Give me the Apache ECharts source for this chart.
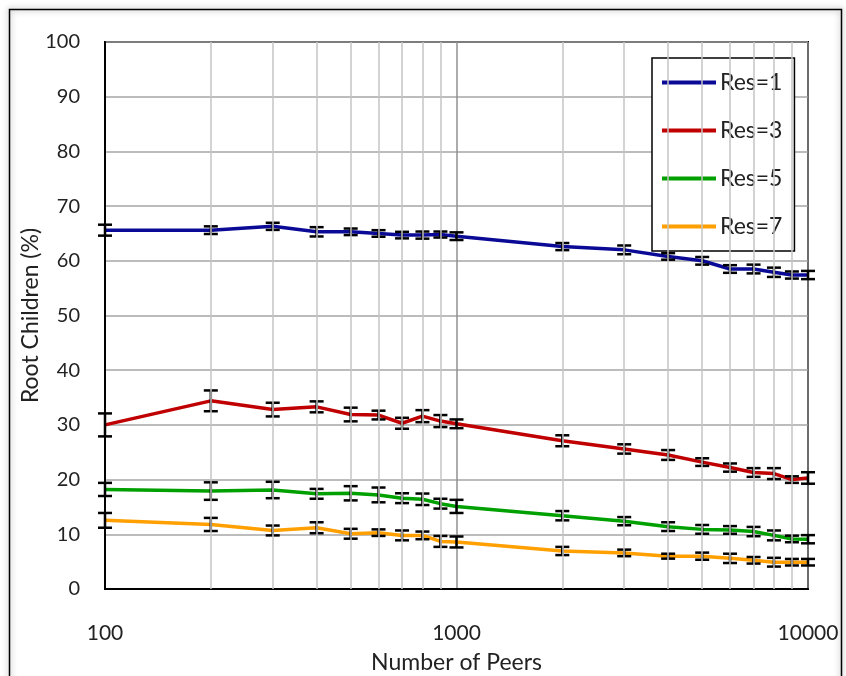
<!DOCTYPE html>
<html>
<head>
<meta charset="utf-8">
<script src="https://cdn.jsdelivr.net/npm/echarts@6/dist/echarts.min.js"></script>
<style>
  html, body { margin: 0; padding: 0; background: #fff; }
  #chart { width: 846px; height: 676px; }
</style>
</head>
<body>
<div id="chart"></div>
<script>
// Number of peers (log x axis)
const peers = [100, 200, 300, 400, 500, 600, 700, 800, 900, 1000, 2000, 3000, 4000, 5000, 6000, 7000, 8000, 9000, 10000];
// minor vertical gridlines of the log axis
const minorPeers = [200, 300, 400, 500, 600, 700, 800, 900, 2000, 3000, 4000, 5000, 6000, 7000, 8000, 9000];

const seriesNames = ["Res=1", "Res=3", "Res=5", "Res=7"];
const seriesColors = ["#0a0a96", "#c00000", "#00a000", "#ffa000"];

// Root children (%) means
const res1 = [65.6, 65.6, 66.3, 65.3, 65.3, 65.0, 64.7, 64.7, 64.8, 64.5, 62.6, 62.0, 60.8, 60.0, 58.5, 58.5, 57.9, 57.4, 57.4];
const res3 = [30.0, 34.4, 32.8, 33.3, 31.9, 31.8, 30.3, 31.6, 30.7, 30.2, 27.1, 25.6, 24.5, 23.2, 22.2, 21.3, 21.1, 20.0, 20.3];
const res5 = [18.2, 17.9, 18.1, 17.4, 17.5, 17.2, 16.6, 16.4, 15.6, 15.1, 13.4, 12.4, 11.4, 10.9, 10.8, 10.5, 9.8, 9.15, 9.1];
const res7 = [12.55, 11.8, 10.7, 11.2, 10.1, 10.3, 9.8, 9.8, 8.7, 8.6, 6.95, 6.6, 6.0, 6.0, 5.6, 5.25, 4.9, 4.9, 4.9];

// half-widths of the error bars
const res1Err = [1.0, 0.7, 0.65, 0.85, 0.6, 0.6, 0.6, 0.65, 0.55, 0.7, 0.65, 0.8, 0.6, 0.7, 0.7, 0.8, 0.85, 0.65, 0.75];
const res3Err = [2.1, 1.9, 1.25, 1.0, 1.25, 0.8, 1.0, 1.1, 1.1, 0.8, 1.0, 0.85, 0.9, 0.7, 0.75, 0.8, 1.0, 0.6, 1.05];
const res5Err = [1.2, 1.6, 1.5, 0.9, 1.3, 1.35, 0.9, 1.05, 0.9, 1.2, 0.85, 0.75, 0.8, 0.8, 0.7, 0.85, 0.9, 0.6, 0.75];
const res7Err = [1.35, 1.2, 0.9, 1.0, 0.9, 0.6, 0.9, 0.7, 1.0, 1.0, 0.75, 0.6, 0.45, 0.65, 0.85, 0.6, 0.8, 0.6, 0.6];

const means = [res1, res3, res5, res7];
const errs = [res1Err, res3Err, res5Err, res7Err];

const FONT = "Lato, 'Open Sans', sans-serif";

function renderErrorBar(params, api) {
  const x = api.value(0);
  const lo = api.coord([x, api.value(1)]);
  const hi = api.coord([x, api.value(2)]);
  const w = 7;
  const style = { stroke: "#000", lineWidth: 2.5 };
  return {
    type: "group",
    children: [
      { type: "line", shape: { x1: lo[0], y1: lo[1], x2: hi[0], y2: hi[1] }, style },
      { type: "line", shape: { x1: lo[0] - w, y1: lo[1], x2: lo[0] + w, y2: lo[1] }, style },
      { type: "line", shape: { x1: hi[0] - w, y1: hi[1], x2: hi[0] + w, y2: hi[1] }, style },
    ],
  };
}

const lineSeries = seriesNames.map((name, i) => ({
  name,
  type: "line",
  data: peers.map((p, j) => [p, means[i][j]]),
  symbol: "none",
  z: 3,
  lineStyle: { color: seriesColors[i], width: 3.5 },
  itemStyle: { color: seriesColors[i] },
  animation: false,
}));

const errSeries = seriesNames.map((name, i) => ({
  name: name + " err",
  type: "custom",
  renderItem: renderErrorBar,
  data: peers.map((p, j) => [p, means[i][j] - errs[i][j], means[i][j] + errs[i][j]]),
  encode: { x: 0, y: [1, 2] },
  z: 4,
  silent: true,
  animation: false,
}));

// minor log gridlines, drawn through the x axis scale
const gridSeries = {
  name: "minor grid",
  type: "line",
  data: [],
  z: 1,
  silent: true,
  markLine: {
    silent: true,
    symbol: ["none", "none"],
    label: { show: false },
    animation: false,
    lineStyle: { color: "#c4c4c4", width: 1.5, type: "solid" },
    data: minorPeers.map((v) => ({ xAxis: v })),
  },
};

const option = {
  animation: false,
  backgroundColor: "#fff",
  textStyle: { fontFamily: FONT },
  graphic: [
    {
      type: "rect",
      left: 7,
      top: 7,
      shape: { width: 832, height: 690 },
      silent: true,
      style: {
        fill: "none",
        stroke: "#000",
        lineWidth: 1.5,
        shadowBlur: 6,
        shadowColor: "rgba(0,0,0,0.45)",
      },
    },
  ],
  grid: {
    left: 105,
    right: 38,
    top: 42,
    bottom: 87,
    outerBoundsMode: "none",
    containLabel: false,
    show: true,
    borderColor: "#000",
    borderWidth: 2,
    backgroundColor: "transparent",
  },
  legend: {
    data: seriesNames,
    orient: "vertical",
    left: 652,
    top: 58,
    backgroundColor: "#fff",
    borderColor: "#000",
    borderWidth: 1.5,
    padding: [13, 12, 13, 10],
    itemGap: 25,
    itemWidth: 54,
    itemHeight: 4,
    icon: "rect",
    textStyle: { fontFamily: FONT, fontSize: 23, color: "#222", lineHeight: 23, padding: [0, 0, 0, -1] },
    selectedMode: false,
  },
  xAxis: {
    type: "log",
    logBase: 10,
    min: 100,
    max: 10000,
    name: "Number of Peers",
    nameLocation: "middle",
    nameGap: 62,
    nameTextStyle: { fontFamily: FONT, fontSize: 23, color: "#222" },
    axisLine: { show: true, lineStyle: { color: "#000", width: 2 } },
    axisTick: { show: false },
    axisLabel: {
      fontFamily: FONT,
      fontSize: 21,
      color: "#222",
      margin: 34,
      formatter: (v) => String(Math.round(v)),
    },
    splitLine: { show: true, lineStyle: { color: "#909090", width: 1.5 } },
  },
  yAxis: {
    type: "value",
    min: 0,
    max: 100,
    interval: 10,
    name: "Root Children (%)",
    nameLocation: "middle",
    nameGap: 63,
    nameMoveOverlap: false,
    nameTextStyle: { fontFamily: FONT, fontSize: 23, color: "#222" },
    axisLine: { show: true, lineStyle: { color: "#000", width: 2 } },
    axisTick: { show: false },
    axisLabel: { fontFamily: FONT, fontSize: 20, color: "#222", margin: 25 },
    splitLine: { show: true, lineStyle: { color: "#a6a6a6", width: 1.5 } },
  },
  series: [gridSeries, ...lineSeries, ...errSeries],
};

const chart = echarts.init(document.getElementById("chart"));
chart.setOption(option);
</script>
</body>
</html>
